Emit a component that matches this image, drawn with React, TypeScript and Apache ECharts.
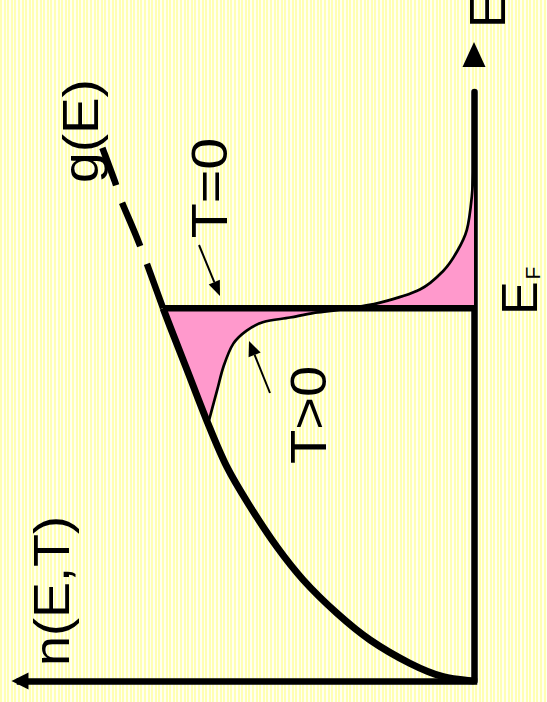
import React, { useEffect, useRef } from "react";
import * as echarts from "echarts";

// Energy is measured in units of E_F, occupation in units of g(E_F).
const fermiEnergy = 1.0;

// Density of states g(E), solid part from 0 up to E_F
const dosEnergy = [0, 0.0115, 0.0475, 0.11, 0.182, 0.271, 0.36, 0.468, 0.575, 0.7, 0.835, 0.95, 1.0];
const dosValue = [0, 0.099, 0.206, 0.334, 0.441, 0.549, 0.634, 0.72, 0.795, 0.86, 0.923, 0.977, 1.0];

// g(E) continued above E_F (dashed)
const dosUpperEnergy = [1.0, 1.17, 1.29, 1.34, 1.43];
const dosUpperValue = [1.0, 1.075, 1.135, 1.155, 1.195];

// n(E,T) for T>0, from where it leaves g(E) until it dies out
const thermalEnergy = [0.7, 0.78, 0.845, 0.905, 0.94, 0.963, 0.975, 0.987, 0.996, 1.015, 1.05, 1.1, 1.15, 1.21, 1.3, 1.4];
const thermalValue = [0.852, 0.826, 0.805, 0.774, 0.731, 0.677, 0.592, 0.518, 0.431, 0.302, 0.174, 0.099, 0.056, 0.023, 0.007, 0];

// Axis extents
const occupationMax = 1.46;
const energyMax = 1.58;

const FONT = '"Liberation Sans", Arial, sans-serif';
const PINK = "#FF99CC";

const pairs = (n: number[], e: number[]) => n.map((v, i) => [v, e[i]]);

// Catmull-Rom through pixel points, written as cubic Bezier segments
function curve(pts: number[][], withMove: boolean): string {
  let d = withMove ? `M ${pts[0][0]} ${pts[0][1]}` : "";
  for (let i = 0; i < pts.length - 1; i++) {
    const p0 = pts[i - 1] || pts[i];
    const p1 = pts[i];
    const p2 = pts[i + 1];
    const p3 = pts[i + 2] || p2;
    const c1x = p1[0] + (p2[0] - p0[0]) / 6;
    const c1y = p1[1] + (p2[1] - p0[1]) / 6;
    const c2x = p2[0] - (p3[0] - p1[0]) / 6;
    const c2y = p2[1] - (p3[1] - p1[1]) / 6;
    d += ` C ${c1x} ${c1y} ${c2x} ${c2y} ${p2[0]} ${p2[1]}`;
  }
  return d;
}

function label(text: string, x: number, y: number, size: number, stretch: number) {
  return {
    type: "text",
    x,
    y,
    rotation: Math.PI / 2,
    scaleX: stretch,
    z: 20,
    style: {
      text,
      fill: "#000",
      fontSize: size,
      fontFamily: FONT,
      align: "center",
      verticalAlign: "middle",
      textAlign: "center",
      textVerticalAlign: "middle",
    },
  };
}

function arrow(tail: number[], tip: number[], headLen: number, headHalf: number) {
  const dx = tip[0] - tail[0];
  const dy = tip[1] - tail[1];
  const len = Math.hypot(dx, dy);
  const ux = dx / len;
  const uy = dy / len;
  const bx = tip[0] - headLen * ux;
  const by = tip[1] - headLen * uy;
  const px = -uy;
  const py = ux;
  return [
    {
      type: "line",
      z: 20,
      shape: { x1: tail[0], y1: tail[1], x2: bx, y2: by },
      style: { stroke: "#000", lineWidth: 2 },
    },
    {
      type: "polygon",
      z: 20,
      shape: {
        points: [
          [tip[0], tip[1]],
          [bx + headHalf * px, by + headHalf * py],
          [bx - headHalf * px, by - headHalf * py],
        ],
      },
      style: { fill: "#000" },
    },
  ];
}

export default function App() {
  const ref = useRef<HTMLDivElement>(null);

  useEffect(() => {
    if (!ref.current) return;
    const chart = echarts.init(ref.current, null, { renderer: "svg" });

    const dosPts = pairs(dosValue, dosEnergy);
    const upperPts = pairs(dosUpperValue, dosUpperEnergy);
    const thermalPts = pairs(thermalValue, thermalEnergy);
    const stepPts = [
      [dosValue[dosValue.length - 1], fermiEnergy],
      [0, fermiEnergy],
    ];

    // pink band between n(E,0) and n(E,T>0), plus the T>0 curve itself
    const renderThermal = (_params: any, api: any) => {
      const toPx = (p: number[]) => api.coord(p);
      const start = thermalPts[0];
      const dosPart = [start, ...dosPts.filter((p) => p[1] > start[1])].map(toPx);
      const thermalPx = thermalPts.map(toPx);
      const topAxis = toPx([0, thermalPts[thermalPts.length - 1][1]]);
      const fermiAxis = toPx([0, fermiEnergy]);
      const reversed = thermalPx.slice().reverse();
      const fillD =
        curve(dosPart, true) +
        ` L ${fermiAxis[0]} ${fermiAxis[1]}` +
        ` L ${topAxis[0]} ${topAxis[1]}` +
        curve(reversed, false) +
        " Z";
      const lineD = curve(thermalPx, true);
      return {
        type: "group",
        children: [
          { type: "path", shape: { pathData: fillD }, style: { fill: PINK, stroke: "none" } },
          { type: "path", shape: { pathData: lineD }, style: { fill: "none", stroke: "#000", lineWidth: 2.7 } },
        ],
      };
    };

    // smooth g(E) curve, solid or dashed
    const renderDos = (pts: number[][], width: number, dash: number[] | null) => (_params: any, api: any) => {
      const d = curve(pts.map((p) => api.coord(p)), true);
      return {
        type: "path",
        shape: { pathData: d },
        style: { fill: "none", stroke: "#000", lineWidth: width, lineDash: dash || undefined, lineCap: "butt" },
      };
    };

    const option: any = {
      animation: false,
      grid: { left: 20, right: 73, top: 92, bottom: 21 },
      xAxis: {
        type: "value",
        inverse: true,
        position: "bottom",
        min: 0,
        max: occupationMax,
        axisLine: {
          show: true,
          onZero: false,
          symbol: ["triangle", "none"],
          symbolSize: [17, 17],
          lineStyle: { color: "#000", width: 6.5, cap: "square" },
        },
        axisTick: { show: false },
        axisLabel: { show: false },
        splitLine: { show: false },
      },
      yAxis: {
        type: "value",
        position: "right",
        min: 0,
        max: energyMax,
        axisLine: {
          show: true,
          onZero: false,
          symbol: ["none", "triangle"],
          symbolSize: [23, 25],
          symbolOffset: [0, 37.5],
          lineStyle: { color: "#000", width: 6.5 },
        },
        axisTick: { show: false },
        axisLabel: { show: false },
        splitLine: { show: false },
      },
      series: [
        {
          type: "custom",
          name: "n(E,T>0)",
          z: 1,
          data: [[0, 0]],
          renderItem: renderThermal,
        },
        {
          type: "custom",
          name: "g(E)",
          z: 3,
          data: [[0, 0]],
          renderItem: renderDos(dosPts, 7, null),
        },
        {
          type: "custom",
          name: "g(E) above E_F",
          z: 3,
          data: [[0, 0]],
          renderItem: renderDos(upperPts, 6.5, [47, 19]),
        },
        {
          type: "line",
          name: "n(E,T=0)",
          z: 3,
          data: stepPts,
          symbol: "none",
          lineStyle: { color: "#000", width: 6.5 },
        },
      ],
      graphic: [
        label("E", 488, 11, 50, 1.0),
        label("n(E,T)", 52, 591, 50, 1.08),
        label("g(E)", 80, 131, 50, 1.1),
        label("T=0", 209, 188, 50, 1.15),
        label("T>0", 309, 415, 50, 1.12),
        label("E", 520, 298, 50, 1.0),
        label("F", 532, 273, 21, 1.0),
        ...arrow([199, 245], [220, 296], 15, 6),
        ...arrow([270, 393], [249, 341], 15, 6.5),
      ],
    };

    chart.setOption(option);
    return () => chart.dispose();
  }, []);

  return (
    <div
      ref={ref}
      style={{
        position: "absolute",
        left: 0,
        top: 0,
        width: 547,
        height: 702,
        background:
          "repeating-linear-gradient(90deg, #ffffb3 0px, #ffffb3 2px, #fffff2 2px, #fffff2 3.6px)",
      }}
    />
  );
}
